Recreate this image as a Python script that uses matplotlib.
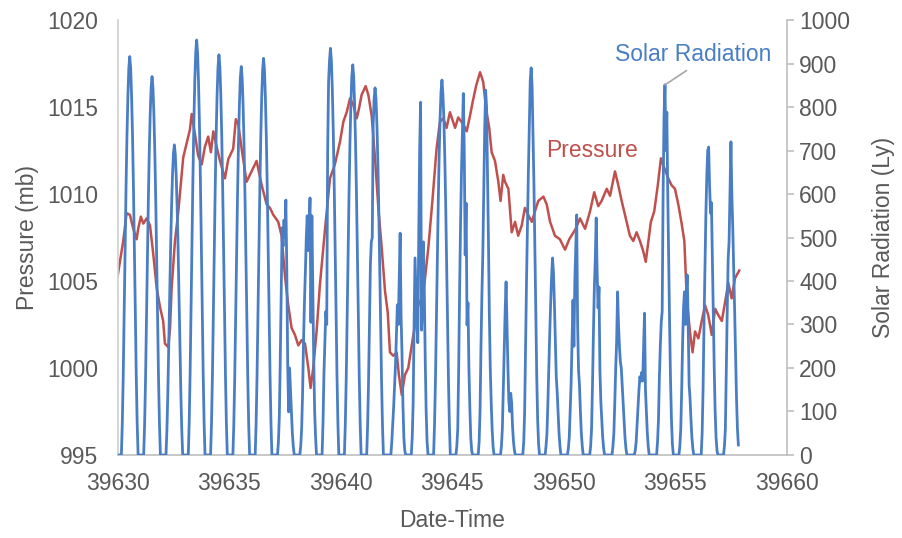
import matplotlib
matplotlib.use("Agg")
import matplotlib.pyplot as plt

plt.rcParams['font.family'] = ['Liberation Sans', 'DejaVu Sans']

start_date = 39630

# Pressure (mb): time offsets (days from start_date) and values
pressure_days = [0.00, 0.10, 0.25, 0.40, 0.55, 0.70, 0.85, 0.92, 1.04, 1.15, 1.30, 1.45, 1.60, 1.75, 1.90,
                 2.04, 2.12, 2.27, 2.35, 2.42, 2.57, 2.72, 2.84, 2.94, 3.09, 3.24, 3.32, 3.47, 3.61, 3.77,
                 3.91, 4.06, 4.18, 4.29, 4.44, 4.59, 4.74, 4.81, 4.96, 5.18, 5.30, 5.41, 5.56, 5.78, 5.93,
                 6.08, 6.23, 6.46, 6.68, 6.83, 6.98, 7.20, 7.35, 7.50, 7.65, 7.80, 7.95, 8.10, 8.25, 8.40,
                 8.55, 8.65, 8.77, 8.92, 9.07, 9.30, 9.52, 9.74, 9.97, 10.12, 10.27, 10.42, 10.57, 10.72,
                 10.82, 10.94, 11.12, 11.24, 11.39, 11.54, 11.69, 11.84, 11.99, 12.11, 12.21, 12.36, 12.51,
                 12.61, 12.74, 12.88, 13.03, 13.26, 13.48, 13.70, 13.93, 14.11, 14.30, 14.45, 14.60, 14.75,
                 14.90, 15.13, 15.27, 15.50, 15.65, 15.80, 15.92, 16.07, 16.25, 16.39, 16.52, 16.66, 16.77,
                 16.92, 17.07, 17.17, 17.29, 17.37, 17.52, 17.67, 17.82, 17.96, 18.12, 18.26, 18.41, 18.57,
                 18.71, 18.86, 19.09, 19.24, 19.39, 19.61, 19.83, 20.06, 20.25, 20.54, 20.73, 20.96, 21.18,
                 21.37, 21.55, 21.70, 21.93, 22.08, 22.30, 22.45, 22.60, 22.75, 22.97, 23.12, 23.27, 23.42,
                 23.57, 23.68, 23.80, 23.91, 24.06, 24.22, 24.36, 24.51, 24.69, 24.84, 24.99, 25.14, 25.29,
                 25.41, 25.52, 25.66, 25.78, 25.89, 26.04, 26.19, 26.34, 26.48, 26.64, 26.79, 26.93, 27.09,
                 27.24, 27.38, 27.53, 27.68, 27.87]
pressure_mb = [1005.3, 1006.1, 1007.3, 1008.9, 1008.8, 1008.0, 1007.4, 1008.0, 1008.7, 1008.3, 1008.6, 1008.2, 1006.5, 1004.6, 1003.5,
               1002.7, 1001.4, 1001.2, 1002.3, 1004.6, 1007.3, 1009.0, 1010.7, 1012.1, 1012.9, 1013.7, 1014.6, 1013.4, 1012.2, 1011.7,
               1012.7, 1013.3, 1012.4, 1013.6, 1012.7, 1011.9, 1011.2, 1010.9, 1012.0, 1012.6, 1014.3, 1014.0, 1012.6, 1010.7, 1011.1,
               1011.5, 1011.9, 1010.5, 1009.4, 1009.2, 1008.8, 1008.4, 1007.6, 1005.3, 1003.6, 1002.3, 1001.9, 1001.3, 1001.6, 1001.4,
               1000.0, 998.85, 1000.0, 1002.1, 1004.8, 1008.0, 1010.9, 1011.7, 1013.0, 1014.15, 1014.7, 1015.5, 1015.1, 1014.35,
               1014.9, 1015.7, 1016.2, 1015.7, 1014.5, 1012.05, 1009.2, 1006.9, 1004.4, 1003.2, 1000.9, 1000.7, 1000.9,
               999.6, 998.45, 999.6, 1000.0, 1001.9, 1003.6, 1004.2, 1006.9, 1009.56, 1012.6, 1014.15, 1014.35, 1013.8,
               1014.7, 1013.8, 1014.4, 1014.0, 1013.6, 1014.5, 1015.3, 1016.2, 1017.0, 1016.45, 1014.9, 1013.8, 1012.4,
               1011.9, 1010.7, 1009.6, 1011.1, 1010.7, 1010.3, 1007.8, 1008.4, 1007.6, 1008.2, 1009.2, 1008.8, 1008.4,
               1009.0, 1009.6, 1009.85, 1009.4, 1008.4, 1007.6, 1007.4, 1006.8, 1007.4, 1008.0, 1008.6, 1008.0, 1009.0,
               1010.1, 1009.3, 1009.6, 1010.3, 1009.9, 1011.3, 1010.5, 1009.6, 1008.8, 1007.6, 1007.3, 1007.8, 1007.3,
               1006.7, 1006.1, 1007.3, 1008.4, 1009.0, 1010.5, 1012.05, 1011.5, 1010.9, 1010.5, 1010.3, 1009.4, 1008.3,
               1007.3, 1004.0, 1002.1, 1000.9, 1002.1, 1001.7, 1002.7, 1003.6, 1003.05, 1001.9, 1003.4, 1003.05, 1002.7,
               1003.8, 1004.9, 1004.0, 1005.15, 1005.6]

# Solar radiation (Ly): hourly values for each day, hours 4..22 (zero at night)
solar_first_hour = 4
solar_daily = [
    [0, 73, 183, 330, 476, 614, 733, 824, 889, 916, 889, 824, 733, 614, 476, 330, 183, 73, 0],
    [0, 70, 174, 313, 452, 583, 696, 783, 844, 870, 844, 783, 696, 583, 452, 313, 174, 70, 0],
    [0, 57, 143, 257, 371, 478, 570, 642, 692, 713, 692, 642, 570, 478, 371, 257, 143, 57, 0],
    [0, 76, 191, 343, 496, 639, 763, 859, 925, 954, 925, 859, 763, 639, 496, 343, 191, 76, 0],
    [0, 74, 184, 331, 478, 616, 736, 828, 892, 920, 892, 828, 736, 616, 478, 331, 184, 74, 0],
    [0, 71, 179, 321, 464, 598, 714, 804, 866, 893, 866, 804, 714, 598, 464, 321, 179, 71, 0],
    [0, 73, 182, 328, 474, 611, 730, 821, 885, 912, 885, 821, 730, 611, 474, 328, 182, 73, 0],
    [0, 30, 90, 220, 380, 522, 480, 540, 500, 586, 430, 207, 99, 200, 150, 100, 50, 20, 0],
    [0, 20, 60, 140, 260, 350, 420, 500, 550, 470, 520, 591, 305, 550, 380, 220, 100, 40, 0],
    [0, 75, 187, 260, 330, 300, 700, 860, 907, 935, 907, 842, 748, 626, 486, 337, 187, 75, 0],
    [0, 72, 179, 323, 466, 601, 718, 807, 870, 897, 870, 807, 718, 601, 466, 323, 179, 72, 0],
    [0, 68, 169, 304, 439, 490, 500, 760, 819, 844, 819, 760, 675, 565, 439, 304, 169, 68, 0],
    [0, 0, 0, 30, 70, 110, 160, 207, 280, 345, 300, 400, 510, 320, 234, 117, 40, 10, 0],
    [0, 40, 120, 300, 453, 380, 300, 258, 500, 700, 811, 287, 345, 490, 380, 220, 100, 30, 0],
    [0, 69, 172, 310, 448, 578, 690, 776, 836, 862, 830, 776, 690, 578, 448, 310, 172, 69, 0],
    [0, 20, 60, 200, 380, 530, 650, 740, 831, 700, 460, 579, 299, 350, 200, 110, 40, 10, 0],
    [0, 30, 100, 250, 368, 466, 600, 750, 839, 800, 650, 500, 322, 200, 120, 60, 20, 0, 0],
    [0, 20, 60, 150, 250, 330, 398, 300, 200, 122, 100, 142, 120, 64, 30, 10, 0, 0, 0],
    [0, 30, 100, 250, 400, 530, 650, 760, 860, 890, 850, 740, 620, 480, 330, 180, 80, 25, 0],
    [0, 20, 50, 120, 200, 280, 350, 410, 453, 420, 350, 260, 180, 145, 100, 50, 20, 0, 0],
    [0, 15, 40, 100, 165, 264, 356, 250, 400, 480, 552, 299, 195, 160, 100, 50, 20, 0, 0],
    [0, 20, 60, 160, 280, 384, 450, 545, 420, 338, 386, 195, 122, 80, 40, 15, 0, 0, 0],
    [0, 20, 50, 120, 200, 260, 375, 300, 250, 214, 200, 161, 120, 80, 40, 15, 0, 0, 0],
    [0, 10, 30, 70, 110, 150, 180, 170, 190, 170, 250, 326, 150, 100, 50, 20, 0, 0, 0],
    [0, 30, 80, 180, 250, 306, 330, 600, 780, 851, 700, 788, 600, 450, 300, 170, 80, 25, 0],
    [0, 20, 60, 150, 260, 340, 375, 300, 380, 414, 300, 161, 130, 80, 40, 15, 0, 0, 0],
    [0, 50, 150, 300, 430, 550, 640, 700, 708, 621, 556, 580, 450, 330, 200, 100, 40, 10, 0],
    [0, 20, 60, 200, 330, 450, 490, 600, 720, 598, 520, 430, 330, 230, 130, 60, 23],
]

x_ticks = [39630, 39635, 39640, 39645, 39650, 39655, 39660]
p_ticks = [995, 1000, 1005, 1010, 1015, 1020]
s_ticks = [0, 100, 200, 300, 400, 500, 600, 700, 800, 900, 1000]

# build solar time series
solar_t, solar_v = [], []
for d, row in enumerate(solar_daily):
    last_day = d == len(solar_daily) - 1
    for h in range(24):
        idx = h - solar_first_hour
        if last_day and idx >= len(row):
            break
        v = row[idx] if 0 <= idx < len(row) else 0
        solar_t.append(start_date + d + h / 24)
        solar_v.append(v)

pressure_t = [start_date + d for d in pressure_days]

BLUE = '#4A7EC4'
RED = '#C0504D'
TXT = '#595959'
FS = 16.5

fig = plt.figure(figsize=(9.03, 5.38), dpi=100)
ax = fig.add_axes([0.1303, 0.1543, 0.8712 - 0.1303, 0.9628 - 0.1543])
ax2 = ax.twinx()

ax.plot(pressure_t, pressure_mb, color=RED, lw=1.8, zorder=2)
ax2.plot(solar_t, solar_v, color=BLUE, lw=2.0, zorder=3)

ax.set_xlim(39630, 39660)
ax.set_ylim(995, 1020)
ax2.set_ylim(0, 1000)
ax.set_xticks(x_ticks)
ax.set_yticks(p_ticks)
ax2.set_yticks(s_ticks)

for a in (ax, ax2):
    for s in a.spines.values():
        s.set_visible(False)
ax.spines['left'].set_visible(True)
ax.spines['left'].set_color('#D0D0D0')
ax.spines['left'].set_linewidth(1.2)
ax.spines['bottom'].set_visible(True)
ax.spines['bottom'].set_color('#BFBFBF')
ax.spines['bottom'].set_linewidth(1.2)
ax2.spines['right'].set_visible(True)
ax2.spines['right'].set_color('#BFBFBF')
ax2.spines['right'].set_linewidth(1.2)

ax.tick_params(axis='x', length=0, pad=12, labelsize=FS, labelcolor=TXT)
ax.tick_params(axis='y', length=0, pad=14, labelsize=FS, labelcolor=TXT)
ax2.tick_params(axis='y', length=5, width=1.2, color='#BFBFBF', direction='out', pad=4,
                labelsize=FS, labelcolor=TXT)

ax.set_xlabel('Date-Time', fontsize=FS, color=TXT, labelpad=10)
ax.set_ylabel('Pressure (mb)', fontsize=FS, color=TXT, labelpad=6)
ax2.set_ylabel('Solar Radiation (Ly)', fontsize=FS, color=TXT, labelpad=16)

ax.text(39651.27, 1012.5, 'Pressure', color=RED, fontsize=FS, ha='center', va='center')

peak_i = max(range(len(solar_t)), key=lambda i: solar_v[i] if solar_t[i] > 39654 else -1)
ax2.annotate('Solar Radiation', xy=(solar_t[peak_i], solar_v[peak_i]), xytext=(39655.8, 920),
             color=BLUE, fontsize=FS, ha='center', va='center',
             arrowprops=dict(arrowstyle='-', color='#A6A6A6', lw=1.2, shrinkA=2, shrinkB=0,
                             relpos=(0.5, 0.0)))

fig.savefig('out.png', dpi=100, facecolor='white')
